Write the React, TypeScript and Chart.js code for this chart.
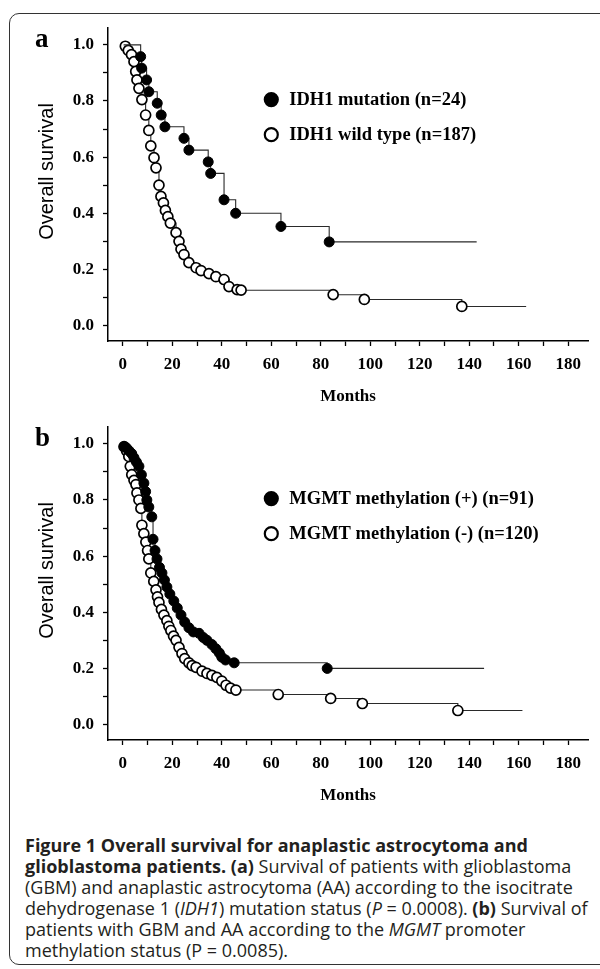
import React, { useEffect, useRef } from 'react';
import { Chart, registerables } from 'chart.js';

Chart.register(...registerables);

// ---------- Panel a: IDH1 ----------
const idhMutLabel = 'IDH1 mutation (n=24)';
const idhMutMonths = [7.2, 7.6, 9.6, 10.5, 13.9, 15.5, 17.0, 24.7, 26.7, 34.5, 35.5, 40.9, 45.6, 63.9, 83.4];
const idhMutSurv = [0.958, 0.917, 0.875, 0.833, 0.792, 0.75, 0.708, 0.667, 0.625, 0.583, 0.542, 0.448, 0.40, 0.353, 0.298];
const idhMutEnd = 143;

const idhWtLabel = 'IDH1 wild type (n=187)';
const idhWtMonths = [1.0, 2.2, 3.5, 4.5, 5.2, 5.7, 6.5, 7.7, 9.2, 10.5, 11.3, 12.6, 13.4, 14.6, 15.4, 16.4, 17.2, 18.2, 19.2, 21.5, 22.7, 23.5, 24.7, 26.7, 29.6, 31.6, 34.8, 37.6, 40.9, 42.9, 46.2, 47.8, 85, 97.6, 137];
const idhWtSurv = [0.995, 0.98, 0.965, 0.94, 0.905, 0.875, 0.845, 0.805, 0.75, 0.695, 0.64, 0.598, 0.562, 0.50, 0.46, 0.437, 0.41, 0.388, 0.365, 0.331, 0.30, 0.272, 0.253, 0.224, 0.206, 0.196, 0.185, 0.174, 0.164, 0.139, 0.128, 0.126, 0.11, 0.093, 0.068];
const idhWtEnd = 163;

// ---------- Panel b: MGMT ----------
const mgmtPosLabel = 'MGMT methylation (+) (n=91)';
const mgmtPosMonths = [0.5, 1.5, 2.5, 3.6, 4.5, 5.5, 6.5, 7.5, 8.5, 9.2, 9.7, 10.5, 11.7, 12.2, 13.0, 13.8, 14.8, 15.8, 16.8, 17.8, 19.0, 20.6, 22.0, 23.5, 25.0, 26.7, 28.5, 30.8, 32.5, 34.0, 36.0, 37.6, 39.0, 40.0, 41.5, 45.0, 82.6];
const mgmtPosSurv = [0.99, 0.985, 0.975, 0.965, 0.95, 0.935, 0.92, 0.89, 0.86, 0.83, 0.80, 0.775, 0.74, 0.66, 0.62, 0.59, 0.56, 0.54, 0.515, 0.49, 0.465, 0.44, 0.415, 0.39, 0.365, 0.345, 0.33, 0.325, 0.31, 0.30, 0.285, 0.27, 0.255, 0.24, 0.23, 0.22, 0.20];
const mgmtPosEnd = 146;

const mgmtNegLabel = 'MGMT methylation (-) (n=120)';
const mgmtNegMonths = [0.5, 1.5, 2.4, 3.0, 3.6, 4.5, 5.3, 5.7, 6.5, 7.3, 7.7, 8.5, 9.3, 10.0, 10.5, 11.3, 12.5, 13.4, 14.0, 14.6, 15.6, 16.6, 17.8, 18.6, 19.4, 20.5, 21.5, 22.7, 23.9, 25.0, 26.7, 28.0, 29.6, 32.0, 34.0, 36.0, 38.0, 40.0, 41.7, 43.5, 45.7, 62.8, 84, 96.8, 135.4];
const mgmtNegSurv = [0.99, 0.975, 0.955, 0.92, 0.89, 0.87, 0.855, 0.825, 0.80, 0.77, 0.71, 0.68, 0.65, 0.62, 0.59, 0.54, 0.51, 0.48, 0.455, 0.435, 0.41, 0.39, 0.37, 0.35, 0.335, 0.315, 0.30, 0.275, 0.253, 0.235, 0.22, 0.21, 0.204, 0.19, 0.182, 0.175, 0.168, 0.155, 0.14, 0.13, 0.123, 0.107, 0.093, 0.075, 0.05];
const mgmtNegEnd = 161.5;

// ---------- Axes ----------
const xTickValues = [0, 10, 20, 30, 40, 50, 60, 70, 80, 90, 100, 110, 120, 130, 140, 150, 160, 170, 180];
const yTickValues = [0, 0.1, 0.2, 0.3, 0.4, 0.5, 0.6, 0.7, 0.8, 0.9, 1.0];
const X_MIN = -6;
const X_MAX = 188;
const Y_MIN = -0.055;
const Y_MAX = 1.06;
const START_MONTH = 0.3;
const legendMonth = 60;
const legendLevels = [0.805, 0.68];
const yTitleText = 'Overall survival';

const CANVAS_W = 600;
const CANVAS_H = 420;
const AXIS_Y = 341;
const SERIF = '"Liberation Serif", "Times New Roman", serif';
const SANS = '"Liberation Sans", Arial, sans-serif';

function kmPoints(months: number[], surv: number[], end: number) {
  const pts = [{ x: START_MONTH, y: 1 }];
  months.forEach((m, i) => pts.push({ x: m, y: surv[i] }));
  pts.push({ x: end, y: surv[surv.length - 1] });
  return pts;
}

const kmLegendPlugin = {
  id: 'kmLegend',
  afterDatasetsDraw(chart: any) {
    const { ctx, scales } = chart;
    const px = scales.x.getPixelForValue(legendMonth);
    chart.data.datasets.forEach((ds: any, i: number) => {
      const py = scales.y.getPixelForValue(legendLevels[i]);
      ctx.save();
      ctx.beginPath();
      ctx.arc(px, py, 6.5, 0, Math.PI * 2);
      ctx.fillStyle = ds.filled ? '#000' : '#fff';
      ctx.fill();
      ctx.lineWidth = 2.2;
      ctx.strokeStyle = '#000';
      ctx.stroke();
      ctx.font = `bold 18.5px ${SERIF}`;
      ctx.fillStyle = '#000';
      ctx.textBaseline = 'middle';
      ctx.textAlign = 'left';
      ctx.fillText(ds.label, px + 18, py + 1);
      ctx.restore();
    });
    // y-axis title
    const ys = scales.y;
    const cy = (ys.top + ys.bottom) / 2 - 13;
    ctx.save();
    ctx.translate(47, cy);
    ctx.rotate(-Math.PI / 2);
    ctx.font = `20px ${SANS}`;
    ctx.fillStyle = '#000';
    ctx.textAlign = 'center';
    ctx.textBaseline = 'middle';
    ctx.fillText(yTitleText, 0, 0);
    ctx.restore();
  },
};

function makeDataset(label: string, months: number[], surv: number[], end: number, filled: boolean) {
  return {
    label,
    filled,
    data: kmPoints(months, surv, end),
    stepped: true,
    borderColor: '#2a2a2a',
    borderWidth: 1.1,
    fill: false,
    pointRadius: (c: any) => (c.dataIndex === 0 || c.dataIndex === c.dataset.data.length - 1 ? 0 : 5),
    pointBackgroundColor: filled ? '#000' : '#fff',
    pointBorderColor: '#000',
    pointBorderWidth: filled ? 1 : 1.7,
    order: filled ? 0 : 1,
  };
}

function makeConfig(datasets: any[]) {
  const tickFont = { family: SERIF, size: 17, weight: 'bold' as const };
  return {
    type: 'line' as const,
    data: { datasets },
    plugins: [kmLegendPlugin],
    options: {
      animation: false as const,
      responsive: false,
      maintainAspectRatio: false,
      layout: { padding: { left: 0, right: 12, top: 28, bottom: 0 } },
      plugins: { legend: { display: false }, tooltip: { enabled: false } },
      scales: {
        x: {
          type: 'linear' as const,
          min: X_MIN,
          max: X_MAX,
          afterBuildTicks: (s: any) => { s.ticks = xTickValues.map((v) => ({ value: v })); },
          afterFit: (s: any) => { s.height = CANVAS_H - AXIS_Y; },
          ticks: {
            autoSkip: false,
            maxRotation: 0,
            padding: 8,
            color: '#000',
            font: tickFont,
            callback: (v: any) => (Math.round(v) % 20 === 0 ? String(Math.round(v)) : ''),
          },
          grid: { drawOnChartArea: false, drawTicks: true, tickLength: 5, tickColor: '#000', tickWidth: 1.3 },
          border: { display: true, color: '#000', width: 1.5 },
          title: { display: true, text: 'Months', color: '#000', font: { family: SERIF, size: 17, weight: 'bold' as const }, padding: { top: 0, bottom: 13 } },
        },
        y: {
          type: 'linear' as const,
          min: Y_MIN,
          max: Y_MAX,
          afterBuildTicks: (s: any) => { s.ticks = yTickValues.map((v) => ({ value: v })); },
          afterFit: (s: any) => { s.width = 108; },
          ticks: {
            autoSkip: false,
            padding: 9,
            color: '#000',
            font: tickFont,
            callback: (v: any) => (Math.round(v * 10) % 2 === 0 ? Number(v).toFixed(1) : ''),
          },
          grid: { drawOnChartArea: false, drawTicks: true, tickLength: 5, tickColor: '#000', tickWidth: 1.3 },
          border: { display: true, color: '#000', width: 1.5 },
          title: { display: false },
        },
      },
    },
  };
}

function KMPanel({ datasets, top }: { datasets: any[]; top: number }) {
  const ref = useRef<HTMLCanvasElement>(null);
  useEffect(() => {
    if (!ref.current) return;
    const chart = new Chart(ref.current, makeConfig(datasets) as any);
    return () => chart.destroy();
  }, []);
  return (
    <canvas
      ref={ref}
      width={CANVAS_W}
      height={CANVAS_H}
      style={{ position: 'absolute', left: 0, top, width: CANVAS_W, height: CANVAS_H }}
    />
  );
}

export default function App() {
  const dsA = [
    makeDataset(idhMutLabel, idhMutMonths, idhMutSurv, idhMutEnd, true),
    makeDataset(idhWtLabel, idhWtMonths, idhWtSurv, idhWtEnd, false),
  ];
  const dsB = [
    makeDataset(mgmtPosLabel, mgmtPosMonths, mgmtPosSurv, mgmtPosEnd, true),
    makeDataset(mgmtNegLabel, mgmtNegMonths, mgmtNegSurv, mgmtNegEnd, false),
  ];
  const panelLabel: React.CSSProperties = {
    position: 'absolute',
    left: 35,
    fontFamily: SERIF,
    fontWeight: 'bold',
    fontSize: 27,
    lineHeight: '27px',
    color: '#000',
  };
  return (
    <div style={{ position: 'absolute', left: 0, top: 0, width: 600, height: 969, background: '#fff', overflow: 'hidden' }}>
      <div style={{ position: 'absolute', left: 9, top: 13, width: 640, height: 950, border: '1px solid #333', borderRadius: 10 }} />
      <KMPanel datasets={dsA} top={0} />
      <KMPanel datasets={dsB} top={399} />
      <div style={{ ...panelLabel, top: 25 }}>a</div>
      <div style={{ ...panelLabel, top: 424 }}>b</div>
      <div
        style={{
          position: 'absolute',
          left: 25,
          top: 835,
          width: 575,
          fontFamily: '"Open Sans", "Noto Sans", sans-serif',
          fontSize: 18,
          lineHeight: '21px',
          color: '#231f20',
          whiteSpace: 'nowrap',
        }}
      >
        <b>Figure 1 Overall survival for anaplastic astrocytoma and</b>
        <br />
        <b>glioblastoma patients. (a)</b> Survival of patients with glioblastoma
        <br />
        (GBM) and anaplastic astrocytoma (AA) according to the isocitrate
        <br />
        dehydrogenase 1 (<i>IDH1</i>) mutation status (<i>P</i> = 0.0008). <b>(b)</b> Survival of
        <br />
        patients with GBM and AA according to the <i>MGMT</i> promoter
        <br />
        methylation status (P = 0.0085).
      </div>
    </div>
  );
}
